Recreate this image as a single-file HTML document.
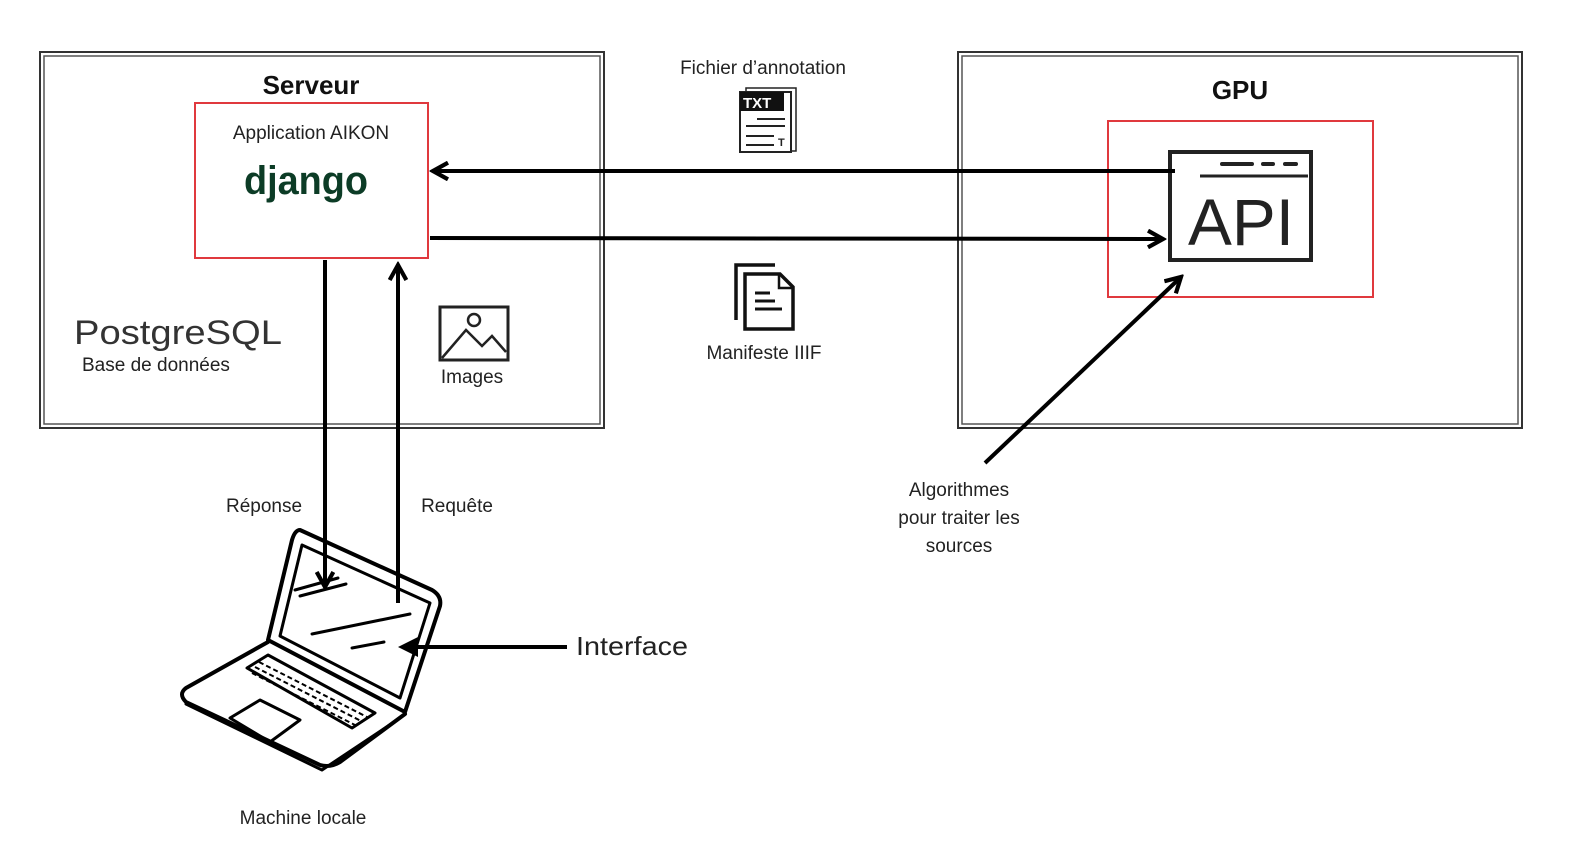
<!DOCTYPE html>
<html><head><meta charset="utf-8"><style>
html,body{margin:0;padding:0;background:#fff;}
svg{display:block;}
text{font-family:"Liberation Sans",sans-serif;}
</style></head><body>
<svg width="1570" height="852" viewBox="0 0 1570 852" xmlns="http://www.w3.org/2000/svg">
<defs>
<marker id="ah" viewBox="0 0 10 10" refX="8" refY="5" markerWidth="5" markerHeight="5" orient="auto"><path d="M0,0 L10,5 L0,10 Z" fill="#000"/></marker>
<marker id="ao" viewBox="0 0 12 12" refX="10" refY="6" markerWidth="5" markerHeight="5" orient="auto"><path d="M1,1 L10,6 L1,11" fill="none" stroke="#000" stroke-width="2.5"/></marker>
</defs>
<g fill="#222">
<rect x="40" y="52" width="564" height="376" fill="none" stroke="#333" stroke-width="2"/>
<rect x="44" y="56" width="556" height="368" fill="none" stroke="#555" stroke-width="1.5"/>
<rect x="958" y="52" width="564" height="376" fill="none" stroke="#333" stroke-width="2"/>
<rect x="962" y="56" width="556" height="368" fill="none" stroke="#555" stroke-width="1.5"/>
<text x="311" y="94" font-size="26" font-weight="bold" text-anchor="middle" fill="#111">Serveur</text>
<text x="1240" y="99" font-size="26" font-weight="bold" text-anchor="middle" fill="#111">GPU</text>
<rect x="195" y="103" width="233" height="155" fill="none" stroke="#e0393e" stroke-width="2"/>
<text x="311" y="139" font-size="19" text-anchor="middle">Application AIKON</text>
<text x="244" y="194" font-size="40" font-weight="bold" fill="#0c3c26" textLength="124" lengthAdjust="spacingAndGlyphs">django</text>
<rect x="1108" y="121" width="265" height="176" fill="none" stroke="#e0393e" stroke-width="2"/>
<rect x="1170" y="152" width="141" height="108" fill="none" stroke="#222" stroke-width="4"/>
<line x1="1200" y1="176" x2="1308" y2="176" stroke="#222" stroke-width="3"/>
<line x1="1222" y1="164" x2="1252" y2="164" stroke="#222" stroke-width="4" stroke-linecap="round"/>
<line x1="1263" y1="164" x2="1273" y2="164" stroke="#222" stroke-width="4" stroke-linecap="round"/>
<line x1="1285" y1="164" x2="1296" y2="164" stroke="#222" stroke-width="4" stroke-linecap="round"/>
<text x="1188" y="245" font-size="66" fill="#222" textLength="106" lengthAdjust="spacingAndGlyphs">API</text>
<text x="74" y="344" font-size="34" fill="#333" textLength="208" lengthAdjust="spacingAndGlyphs">PostgreSQL</text>
<text x="82" y="371" font-size="19">Base de données</text>
<rect x="440" y="307" width="68" height="53" fill="none" stroke="#222" stroke-width="3"/>
<circle cx="474" cy="320" r="6" fill="none" stroke="#222" stroke-width="2.5"/>
<path d="M442,358 L466,330 L482,346 L492,336 L506,352" fill="none" stroke="#222" stroke-width="2.5"/>
<text x="472" y="383" font-size="19" text-anchor="middle">Images</text>
<text x="763" y="74" font-size="19" text-anchor="middle">Fichier d’annotation</text>
<rect x="746" y="88" width="50" height="63" fill="#fff" stroke="#222" stroke-width="1.5"/>
<rect x="740" y="92" width="51" height="60" fill="#fff" stroke="#222" stroke-width="2"/>
<rect x="740" y="92" width="44" height="19" fill="#111"/>
<text x="743" y="108" font-size="15" font-weight="bold" fill="#fff">TXT</text>
<line x1="757" y1="119" x2="785" y2="119" stroke="#222" stroke-width="2"/>
<line x1="746" y1="126" x2="785" y2="126" stroke="#222" stroke-width="2"/>
<line x1="746" y1="136" x2="774" y2="136" stroke="#222" stroke-width="2"/>
<line x1="746" y1="145" x2="774" y2="145" stroke="#222" stroke-width="2"/>
<text x="778" y="146" font-size="11" font-weight="bold" fill="#222">T</text>
<path d="M736,320 L736,265 L775,265" fill="none" stroke="#111" stroke-width="3.5"/>
<path d="M745,274 L780,274 L793,287 L793,329 L745,329 Z" fill="#fff" stroke="#111" stroke-width="3.5"/>
<path d="M779,274 L779,288 L793,288" fill="none" stroke="#111" stroke-width="2.5"/>
<line x1="755" y1="293" x2="770" y2="293" stroke="#111" stroke-width="3"/>
<line x1="755" y1="301" x2="775" y2="301" stroke="#111" stroke-width="3"/>
<line x1="755" y1="309" x2="782" y2="309" stroke="#111" stroke-width="3"/>
<text x="764" y="359" font-size="19" text-anchor="middle">Manifeste IIIF</text>
<line x1="1175" y1="171" x2="433" y2="171" stroke="#000" stroke-width="4" marker-end="url(#ao)"/>
<line x1="430" y1="238" x2="1163" y2="239" stroke="#000" stroke-width="4" marker-end="url(#ao)"/>
<line x1="325" y1="260" x2="325" y2="587" stroke="#000" stroke-width="4" marker-end="url(#ao)"/>
<line x1="398" y1="603" x2="398" y2="265" stroke="#000" stroke-width="4" marker-end="url(#ao)"/>
<text x="264" y="512" font-size="19" text-anchor="middle">Réponse</text>
<text x="457" y="512" font-size="19" text-anchor="middle">Requête</text>
<line x1="985" y1="463" x2="1181" y2="277" stroke="#000" stroke-width="4" marker-end="url(#ao)"/>
<text x="959" y="496" font-size="19" text-anchor="middle">Algorithmes</text>
<text x="959" y="524" font-size="19" text-anchor="middle">pour traiter les</text>
<text x="959" y="552" font-size="19" text-anchor="middle">sources</text>
<g fill="none" stroke="#000" stroke-width="4" stroke-linejoin="round" stroke-linecap="round">
<path d="M300,530 L432,590 Q442,596 440,606 L405,712 L268,640 L292,540 Q295,530 300,530 Z"/>
<path d="M302,545 L430,603 L400,698 L280,636 Z" stroke-width="3"/>
<path d="M268,642 L186,688 Q178,694 186,702 L320,765 Q330,768 340,762 L405,714"/>
<path d="M186,704 L322,770 L400,718" stroke-width="3"/>
<path d="M247,668 L268,655 L375,713 L352,728 Z" stroke-width="3"/>
<path d="M230,718 L260,700 L300,720 L270,742 Z" stroke-width="3"/>
<path d="M295,590 L338,578 M300,596 L346,584 M312,634 L410,614 M352,648 L384,642" stroke-width="3"/>
</g>
<g stroke="#000" stroke-width="2" stroke-dasharray="5 3">
<line x1="255" y1="667" x2="363" y2="722"/><line x1="252" y1="673" x2="359" y2="727"/><line x1="259" y1="662" x2="367" y2="717"/>
</g>
<line x1="567" y1="647" x2="402" y2="647" stroke="#000" stroke-width="4" marker-end="url(#ah)"/>
<text x="576" y="655" font-size="26" fill="#222" textLength="112" lengthAdjust="spacingAndGlyphs">Interface</text>
<text x="303" y="824" font-size="19" text-anchor="middle">Machine locale</text>
</g>
</svg>
</body></html>
